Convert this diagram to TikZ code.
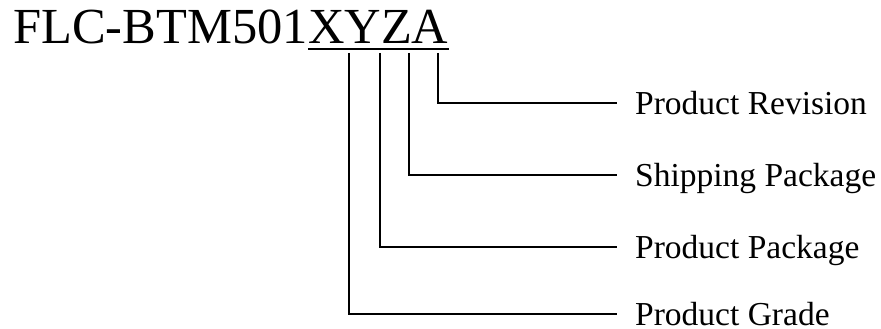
\documentclass[tikz,border=0pt]{standalone}
\usepackage{fontspec}
\setmainfont{Liberation Serif}
\usepackage{tikz}
\usetikzlibrary{positioning}

\tikzset{
    partlabel/.style={anchor=west, inner xsep=18pt, inner ysep=0pt,
        text height=22pt, text depth=0pt, font=\fontsize{33.5}{40}\selectfont},
    titletext/.style={inner sep=0pt, font=\fontsize{50.5}{60}\selectfont},
    leader/.style={line width=2pt}
}

\begin{document}
\begin{tikzpicture}[x=1pt, y=-1pt]
    \useasboundingbox (0, 0) rectangle (881, 329);

    \node[titletext, anchor=base west] (pre) at (13, 43.5) {FLC-BTM501};
    \node[titletext, anchor=base west] (code) at (pre.base east) {XYZA};
    \draw[leader] ([yshift=-5.5pt]code.base west) -- ([yshift=-5.5pt]code.base east);

    \node[partlabel] (rev) at (617, 103) {Product Revision};
    \node[partlabel] (ship) at (617, 175) {Shipping Package};
    \node[partlabel] (pkg) at (617, 247) {Product Package};
    \node[partlabel] (grade) at (617, 314) {Product Grade};

    \coordinate (tX) at (349, 53);
    \coordinate (tY) at (380, 53);
    \coordinate (tZ) at (409, 53);
    \coordinate (tA) at (438, 53);

    \draw[leader] (tA) |- (rev.west);
    \draw[leader] (tZ) |- (ship.west);
    \draw[leader] (tY) |- (pkg.west);
    \draw[leader] (tX) |- (grade.west);
\end{tikzpicture}
\end{document}
